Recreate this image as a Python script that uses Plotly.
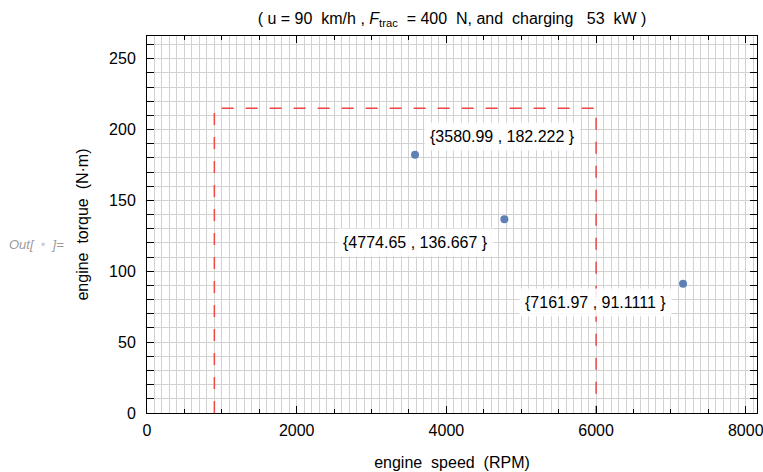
import plotly.graph_objects as go

# ---- data ----
speed_rpm = [3580.99, 4774.65, 7161.97]
torque_nm = [182.222, 136.667, 91.1111]
speed_labels = ["3580.99", "4774.65", "7161.97"]
torque_labels = ["182.222", "136.667", "91.1111"]
region_x = [900, 900, 6000, 6000]
region_y = [0, 215, 215, 0]
x_ticks = [0, 2000, 4000, 6000, 8000]
y_ticks = [0, 50, 100, 150, 200, 250]

FONT = "Liberation Sans, Arial, sans-serif"
GRID = "#d2d2d2"

W, H = 763, 472
ML, MR, MT, MB = 147, 6, 36, 59
PW, PH = W - ML - MR, H - MT - MB

fig = go.Figure()

# feasible operating region (red dashed)
fig.add_trace(go.Scatter(
    x=region_x, y=region_y, mode="lines",
    line=dict(color="rgb(240,70,70)", width=1.5, dash="12px,12px"),
    hoverinfo="skip", showlegend=False))

# operating points
fig.add_trace(go.Scatter(
    x=speed_rpm, y=torque_nm, mode="markers",
    marker=dict(color="#5E81B5", size=8),
    showlegend=False))

# dummy trace for the fine x grid axis
fig.add_trace(go.Scatter(x=[None], y=[None], xaxis="x2", showlegend=False))

offsets = [(87, 18), (-89, -23), (-88, -19)]
for sx, ty, sl, tl, (dx, dy) in zip(speed_rpm, torque_nm, speed_labels, torque_labels, offsets):
    fig.add_annotation(
        x=sx, y=ty, xref="x", yref="y", showarrow=False,
        text="{" + sl + " , " + tl + " }",
        xshift=dx, yshift=dy,
        font=dict(family=FONT, size=16, color="black"),
        bgcolor="rgba(255,255,255,0.88)", borderpad=5)

fig.add_annotation(
    x=(7 - ML) / PW, y=(H - MB - 244) / PH, xref="paper", yref="paper", showarrow=False,
    text="<i>Out[\u00a0\u00a0<span style='color:#d0d0d0'>•</span>\u00a0\u00a0]=</i>",
    font=dict(family=FONT, size=13, color="#9a9a9a"),
    xanchor="left", yanchor="middle")

fig.update_layout(
    width=W, height=H,
    margin=dict(l=ML, r=MR, t=MT, b=MB, autoexpand=False),
    paper_bgcolor="white", plot_bgcolor="white",
    font=dict(family=FONT, size=16, color="black"),
    title=dict(
        text="( u = 90  km/h , <i>F</i><sub>trac</sub>  = 400  N, and  charging   53  kW )",
        x=0.5, xref="paper", xanchor="center", y=1 - 18 / H, yanchor="middle",
        font=dict(family=FONT, size=16, color="black")),
    xaxis=dict(
        range=[0, 8150], tickvals=x_ticks, ticks="inside", ticklen=7, tickcolor="black",
        minor=dict(dtick=500, ticklen=4, ticks="inside", tickcolor="black", showgrid=False),
        showgrid=False, zeroline=False, showline=True, linecolor="black", linewidth=1,
        mirror="allticks", ticklabelstandoff=3, automargin=False,
        ticklabeloverflow="allow",
        title=dict(text="engine  speed  (RPM)", standoff=18,
                   font=dict(family=FONT, size=16))),
    xaxis2=dict(
        overlaying="x", matches="x", range=[0, 8150], dtick=100, tick0=0,
        showgrid=True, gridcolor=GRID, gridwidth=1, showticklabels=False,
        ticks="", showline=False, zeroline=False, anchor="y", automargin=False),
    yaxis=dict(
        range=[0, 266], tickvals=y_ticks, ticks="inside", ticklen=7, tickcolor="black",
        showgrid=True, gridcolor=GRID, gridwidth=1,
        minor=dict(dtick=10, ticklen=4, ticks="inside", tickcolor="black",
                   showgrid=True, gridcolor=GRID, gridwidth=1),
        zeroline=False, showline=True, linecolor="black", linewidth=1,
        mirror="allticks", ticklabelstandoff=7, automargin=False,
        ticklabeloverflow="allow",
        title=dict(text="engine  torque  (N·m)", standoff=16,
                   font=dict(family=FONT, size=16))),
)

fig.write_html("out.html")
